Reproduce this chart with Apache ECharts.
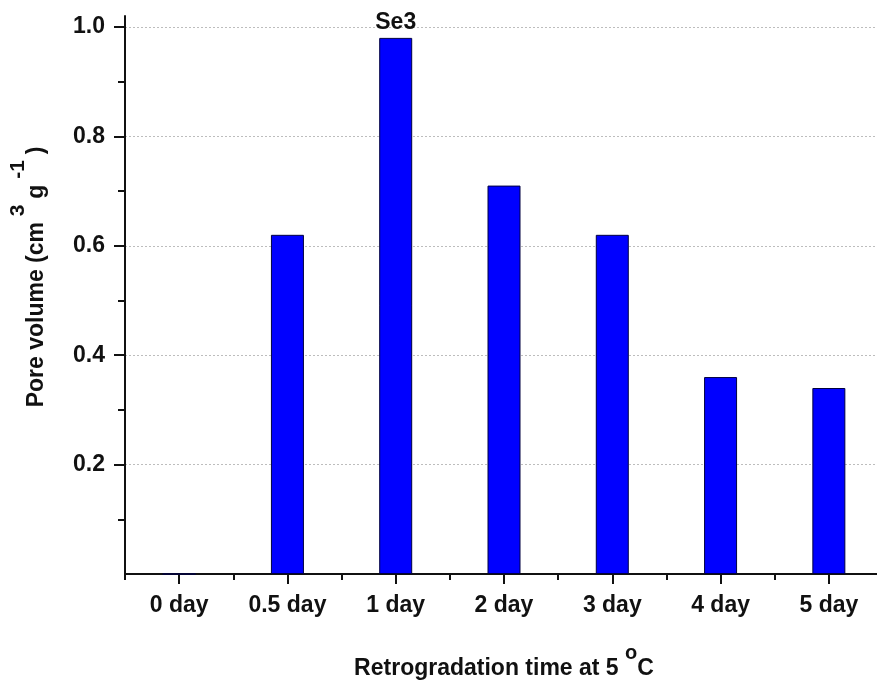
<!DOCTYPE html>
<html>
<head>
<meta charset="utf-8">
<script src="https://cdn.jsdelivr.net/npm/echarts@6/dist/echarts.min.js"></script>
<style>
  html, body { margin: 0; padding: 0; background: #fff; overflow: hidden; }
  /* the plot runs a little past the right edge of the page */
  #chart { width: 892px; height: 686px; }
</style>
</head>
<body>
<div id="chart"></div>
<script>
// Retrogradation time categories and pore volume readings
const categories = ['0 day', '0.5 day', '1 day', '2 day', '3 day', '4 day', '5 day'];
const poreVolume = [0, 0.62, 0.98, 0.71, 0.62, 0.36, 0.34];
const barNotes = ['', '', 'Se3', '', '', '', ''];

// Tick positions on the value axis
const yMajorTicks = [0.2, 0.4, 0.6, 0.8, 1.0];
const yMinorTicks = [0.1, 0.3, 0.5, 0.7, 0.9];
const yMin = 0;
const yMax = 1.02;

const FONT = '"Liberation Sans", Arial, sans-serif';
const INK = '#111';
const FS = 23;

const barData = poreVolume.map((v, i) => {
  const item = { value: v };
  if (barNotes[i]) {
    item.label = {
      show: true,
      position: 'top',
      distance: 4,
      formatter: barNotes[i],
      fontFamily: FONT,
      fontWeight: 'bold',
      fontSize: FS,
      color: INK
    };
  }
  return item;
});

// rich-text styles: base text sits at the bottom of the line, superscripts at the top
function richStyles(lift, supSize) {
  return {
    b: { fontFamily: FONT, fontWeight: 'bold', fontSize: FS, color: INK, verticalAlign: 'bottom' },
    sup: { fontFamily: FONT, fontWeight: 'bold', fontSize: supSize, color: INK, verticalAlign: 'top', padding: [0, 0, lift, 0] }
  };
}

const chart = echarts.init(document.getElementById('chart'), null, { renderer: 'canvas' });

chart.setOption({
  backgroundColor: '#ffffff',
  animation: false,
  grid: { left: 123, width: 760, top: 16, bottom: 112, containLabel: false },
  xAxis: [
    {
      type: 'category',
      data: categories,
      boundaryGap: true,
      position: 'bottom',
      axisLine: { show: true, lineStyle: { color: INK, width: 2 } },
      axisTick: { show: true, alignWithLabel: true, length: 10, inside: false, lineStyle: { color: INK, width: 2 } },
      axisLabel: { fontFamily: FONT, fontWeight: 'bold', fontSize: FS, color: INK, margin: 20 },
      splitLine: { show: false },
      name: '{b|Retrogradation time at 5 }{sup|o}{b|C}',
      nameLocation: 'middle',
      nameGap: 69,
      nameTextStyle: {
        fontFamily: FONT, fontWeight: 'bold', fontSize: FS, color: INK,
        rich: richStyles(17, 20)
      }
    },
    {
      type: 'category',
      data: categories,
      boundaryGap: true,
      position: 'bottom',
      axisLine: { show: false },
      axisTick: { show: true, alignWithLabel: false, length: 6, lineStyle: { color: INK, width: 2 } },
      axisLabel: { show: false },
      splitLine: { show: false }
    }
  ],
  yAxis: [
    {
      type: 'value',
      min: yMin,
      max: yMax,
      position: 'left',
      axisLine: { show: true, lineStyle: { color: INK, width: 2 } },
      axisTick: { show: true, length: 11, customValues: yMajorTicks, lineStyle: { color: INK, width: 2 } },
      axisLabel: {
        customValues: yMajorTicks,
        formatter: v => v.toFixed(1),
        fontFamily: FONT, fontWeight: 'bold', fontSize: FS, color: INK, margin: 20
      },
      splitLine: { show: true, lineStyle: { color: '#bdbdbd', width: 1, type: [2, 2] } },
      name: '{b|Pore volume (cm}{sup| 3 }{b|g}{sup| -1 }{b|)}',
      nameLocation: 'middle',
      nameRotate: 90,
      nameGap: 77,
      nameTextStyle: {
        fontFamily: FONT, fontWeight: 'bold', fontSize: FS, color: INK,
        padding: [0, 0, 0, 36],
        rich: richStyles(19, 21)
      }
    },
    {
      type: 'value',
      min: yMin,
      max: yMax,
      position: 'left',
      axisLine: { show: false },
      axisTick: { show: true, length: 7, customValues: yMinorTicks, lineStyle: { color: INK, width: 2 } },
      axisLabel: { show: false, customValues: yMinorTicks },
      splitLine: { show: false }
    }
  ],
  series: [
    {
      type: 'bar',
      xAxisIndex: 0,
      yAxisIndex: 0,
      data: barData,
      barWidth: 33,
      itemStyle: { color: '#0000ff', borderColor: '#000040', borderWidth: 1 },
      z: 3
    }
  ]
});
</script>
</body>
</html>
